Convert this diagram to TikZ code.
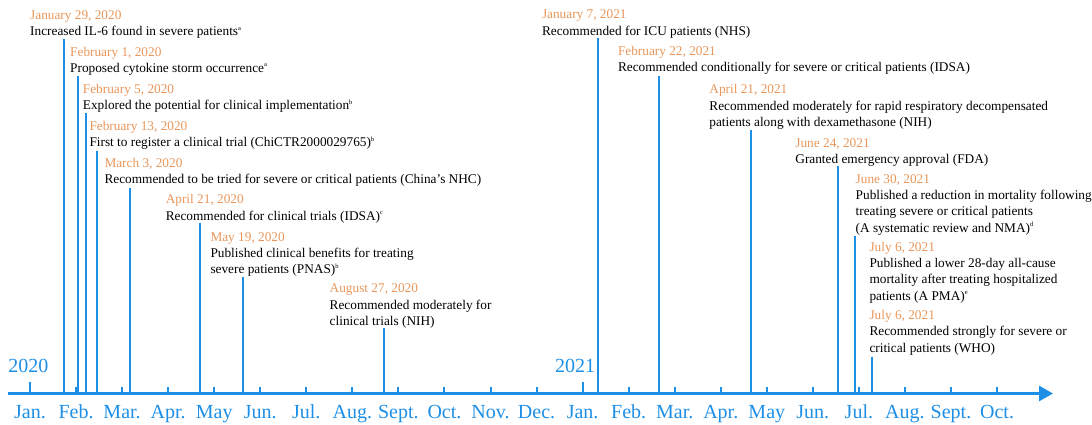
\documentclass[tikz,border=0pt]{standalone}
\usepackage{fontspec}
\setmainfont{Liberation Serif}
\usetikzlibrary{arrows.meta}
\definecolor{dateor}{RGB}{232,150,90}
\definecolor{tlblue}{RGB}{29,143,230}
\newcommand{\sps}[1]{\raisebox{0.42em}{\fontsize{6.5}{7}\selectfont #1}}
\newcommand{\dt}[1]{{\color{dateor}#1}}
\begin{document}
\begin{tikzpicture}[x=1pt,y=-1pt,
  ev/.style={anchor=base west, inner sep=0pt, align=left, text=black,
             font=\fontsize{13.3}{16.3}\selectfont},
  evline/.style={draw=tlblue, line width=1.8pt},
  tickmark/.style={draw=tlblue, line width=2pt},
  monthlab/.style={anchor=base, inner sep=0pt, text=tlblue, font=\fontsize{20}{22}\selectfont},
  yearlab/.style={anchor=base west, inner sep=0pt, text=tlblue, font=\fontsize{20}{22}\selectfont}]
\useasboundingbox (0,0) rectangle (1092,424);

% axis
\coordinate (ax0) at (8,393.5);
\coordinate (ax1) at (1053,393.5);

% event lines (drawn first, under the axis)
\coordinate (e1) at (64.3,39.3);
\coordinate (e2) at (78.2,76);
\coordinate (e3) at (86,113.3);
\coordinate (e4) at (97.3,150.7);
\coordinate (e5) at (130.3,188.3);
\coordinate (e6) at (199.7,223.3);
\coordinate (e7) at (242.7,276.7);
\coordinate (e8) at (384,328.3);
\coordinate (e9) at (597.8,38.3);
\coordinate (e10) at (659,76);
\coordinate (e11) at (751,130);
\coordinate (e12) at (837.6,166);
\coordinate (e13) at (855.3,236);
\coordinate (e15) at (872.2,356.7);
\foreach \e in {e1,e2,e3,e4,e5,e6,e7,e8,e9,e10,e11,e12,e13,e15}
  \draw[evline] (\e) -- (\e |- ax0);

% ticks
\foreach \m in {1,...,11,13,14,...,21}
  \draw[tickmark] (30+46.05*\m,393.5) -- ++(0,-6.8);
\foreach \m in {0,12}
  \draw[tickmark] (30+46.05*\m,393.5) -- ++(0,-11.2);

\draw[tlblue, line width=2.7pt, -{Triangle[length=14pt,width=15pt]}] (ax0) -- (ax1);

% month labels
\foreach \name [count=\i from 0] in {Jan.,Feb.,Mar.,Apr.,May,Jun.,Jul.,Aug.,Sept.,Oct.,Nov.,Dec.,Jan.,Feb.,Mar.,Apr.,May,Jun.,Jul.,Aug.,Sept.,Oct.}
  \node[monthlab] (m\i) at (30+46.05*\i,418) {\name};

\node[yearlab] (y2020) at (8.3,372.3) {2020};
\node[yearlab] (y2021) at (555,372.3) {2021};

% events (anchor = baseline of the last line)
\node[ev] (t1) at (30,35.8) {\dt{January 29, 2020}\\Increased IL-6 found in severe patients\sps{a}};
\node[ev] (t2) at (70,72.5) {\dt{February 1, 2020}\\Proposed cytokine storm occurrence\sps{a}};
\node[ev] (t3) at (82.7,109.8) {\dt{February 5, 2020}\\Explored the potential for clinical implementation\sps{b}};
\node[ev] (t4) at (89.3,146.8) {\dt{February 13, 2020}\\First to register a clinical trial (ChiCTR2000029765)\sps{b}};
\node[ev] (t5) at (104.3,183.8) {\dt{March 3, 2020}\\Recommended to be tried for severe or critical patients (China’s NHC)};
\node[ev] (t6) at (165.6,220.1) {\dt{April 21, 2020}\\Recommended for clinical trials (IDSA)\sps{c}};
\node[ev] (t7) at (210.3,273.8) {\dt{May 19, 2020}\\Published clinical benefits for treating\\severe patients (PNAS)\sps{b}};
\node[ev] (t8) at (329.5,325.4) {\dt{August 27, 2020}\\Recommended moderately for\\clinical trials (NIH)};
\node[ev] (t9) at (541.8,35.1) {\dt{January 7, 2021}\\Recommended for ICU patients (NHS)};
\node[ev] (t10) at (617.8,71.8) {\dt{February 22, 2021}\\Recommended conditionally for severe or critical patients (IDSA)};
\node[ev] (t11) at (709.2,126.4) {\dt{April 21, 2021}\\Recommended moderately for rapid respiratory decompensated\\patients along with dexamethasone (NIH)};
\node[ev] (t12) at (795.2,163.5) {\dt{June 24, 2021}\\Granted emergency approval (FDA)};
\node[ev] (t13) at (855.5,232) {\dt{June 30, 2021}\\Published a reduction in mortality following\\treating severe or critical patients\\(A systematic review and NMA)\sps{d}};
\node[ev] (t14) at (869.3,300.1) {\dt{July 6, 2021}\\Published a lower 28-day all-cause\\mortality after treating hospitalized\\patients (A PMA)\sps{e}};
\node[ev] (t15) at (869.3,352.1) {\dt{July 6, 2021}\\Recommended strongly for severe or\\critical patients (WHO)};
\end{tikzpicture}
\end{document}
